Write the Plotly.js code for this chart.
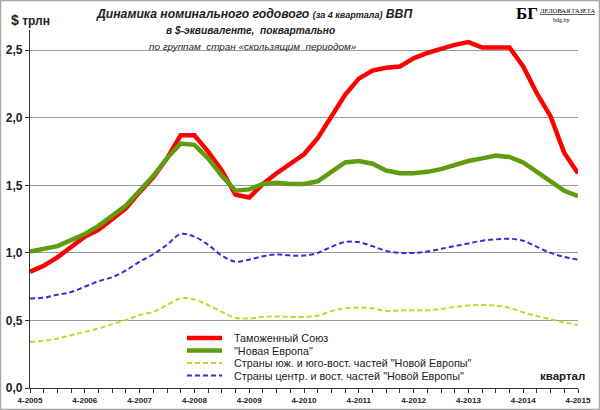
<!DOCTYPE html>
<html>
<head>
<meta charset="utf-8">
<script src="https://cdn.plot.ly/plotly-3.0.1.min.js"></script>
<style>
html,body{margin:0;padding:0;background:#fff;}
#chart{width:600px;height:410px;}
</style>
</head>
<body>
<div id="chart"></div>
<script>
const quarters = [
  "4-2005",
  "1-2006","2-2006","3-2006","4-2006",
  "1-2007","2-2007","3-2007","4-2007",
  "1-2008","2-2008","3-2008","4-2008",
  "1-2009","2-2009","3-2009","4-2009",
  "1-2010","2-2010","3-2010","4-2010",
  "1-2011","2-2011","3-2011","4-2011",
  "1-2012","2-2012","3-2012","4-2012",
  "1-2013","2-2013","3-2013","4-2013",
  "1-2014","2-2014","3-2014","4-2014",
  "1-2015","2-2015","3-2015","4-2015"
];
const customsUnion = [0.86,0.905,0.967,1.04,1.12,1.17,1.25,1.33,1.45,1.56,1.70,1.87,1.87,1.75,1.61,1.43,1.41,1.51,1.59,1.66,1.73,1.85,2.01,2.17,2.29,2.35,2.37,2.38,2.44,2.48,2.51,2.54,2.56,2.52,2.52,2.52,2.38,2.18,2.01,1.74,1.59];
const newEurope = [1.01,1.026,1.05,1.095,1.14,1.20,1.27,1.35,1.46,1.57,1.70,1.81,1.80,1.70,1.57,1.46,1.47,1.51,1.52,1.51,1.51,1.53,1.60,1.67,1.68,1.66,1.61,1.59,1.59,1.60,1.62,1.65,1.68,1.70,1.72,1.71,1.67,1.60,1.53,1.46,1.42];
const southEast = [0.343,0.35,0.367,0.39,0.416,0.44,0.473,0.503,0.54,0.564,0.614,0.663,0.656,0.614,0.564,0.52,0.515,0.527,0.53,0.527,0.527,0.535,0.57,0.59,0.594,0.59,0.57,0.575,0.575,0.575,0.585,0.60,0.61,0.614,0.61,0.594,0.56,0.533,0.508,0.486,0.466];
const centralEast = [0.663,0.668,0.69,0.71,0.75,0.79,0.82,0.87,0.935,0.99,1.06,1.14,1.12,1.06,0.98,0.935,0.95,0.975,0.99,0.98,0.98,1.00,1.045,1.08,1.08,1.05,1.015,1.00,1.00,1.01,1.03,1.05,1.07,1.09,1.10,1.105,1.09,1.045,1.00,0.97,0.95];
const yTicks = [0, 0.5, 1.0, 1.5, 2.0, 2.5];
const seriesNames = ["Таможенный Союз", "\"Новая Европа\"", "Страны юж. и юго-вост. частей \"Новой Европы\"", "Страны центр. и вост. частей \"Новой Европы\""];
const titleLines = [
  "<b><i>Динамика номинального годового <span style='font-size:9px'>(за 4 квартала)</span> ВВП</i></b>",
  "<b><i>в $-эквиваленте,  поквартально</i></b>",
  "<i>по группам  стран «скользящим  периодом»</i>"
];

// geometry helpers (pixel -> paper)
const L = 30, R = 578, T = 30, B = 388;
const px = x => (x - L) / (R - L);
const py = y => (B - y) / (B - T);

const FONT = "'Liberation Sans Narrow', 'Liberation Sans', Arial, sans-serif";
const colors = ["#ff0000", "#5f9c10", "#c3d62c", "#3030dd"];
const styles = [
  {width: 4.5, dash: "solid"},
  {width: 4.5, dash: "solid"},
  {width: 2, dash: "5px,3px"},
  {width: 2, dash: "5px,3px"}
];
const dataSeries = [customsUnion, newEurope, southEast, centralEast];
const order = [2, 3, 0, 1];

const traces = order.map(k => ({
  type: "scatter", mode: "lines", x: quarters, y: dataSeries[k], name: seriesNames[k],
  line: {color: colors[k], width: styles[k].width, dash: styles[k].dash, shape: k >= 2 ? "spline" : "linear", smoothing: 1},
  showlegend: false, hoverinfo: "skip"
}));

const shapes = [];
const annotations = [];
// manual legend
const legendRows = [338, 350.5, 363, 375.5];
seriesNames.forEach((nm, k) => {
  shapes.push({type: "line", xref: "paper", yref: "paper", x0: px(187), x1: px(222), y0: py(legendRows[k]), y1: py(legendRows[k]),
    line: {color: colors[k], width: styles[k].width, dash: styles[k].dash}});
  annotations.push({xref: "paper", yref: "paper", x: px(232), y: py(legendRows[k]), xanchor: "left", yanchor: "middle",
    text: nm, showarrow: false, font: {family: FONT, size: 10.8, color: "#1a1a1a"}});
});
// outer frame
shapes.push({type: "rect", xref: "paper", yref: "paper", x0: px(0.5), x1: px(599.5), y0: py(409.5), y1: py(0.5),
  line: {color: "#a8a8a8", width: 1.5}, fillcolor: "rgba(0,0,0,0)", layer: "above"});

// titles
const titlePos = [[254, 14, 12.2], [250, 30.5, 10.2], [253, 46.5, 9.9]];
titleLines.forEach((t, i) => {
  annotations.push({xref: "paper", yref: "paper", x: px(titlePos[i][0]), y: py(titlePos[i][1]), xanchor: "center", yanchor: "middle",
    text: t, showarrow: false, font: {family: FONT, size: titlePos[i][2], color: "#222"}});
});
annotations.push({xref: "paper", yref: "paper", x: px(9), y: py(20), xanchor: "left", yanchor: "middle",
  text: "<b><span style='font-size:14px'>$</span> трлн</b>", showarrow: false, font: {family: FONT, size: 12, color: "#222"}});
annotations.push({xref: "paper", yref: "paper", x: px(587), y: py(376), xanchor: "right", yanchor: "middle",
  text: "<b>квартал</b>", showarrow: false, font: {family: FONT, size: 11.5, color: "#222"}});
// logo
annotations.push({xref: "paper", yref: "paper", x: px(527), y: py(13), xanchor: "center", yanchor: "middle",
  text: "<b>БГ</b>", showarrow: false, font: {family: "'Liberation Serif', serif", size: 17, color: "#000"}});
annotations.push({xref: "paper", yref: "paper", x: px(567), y: py(10.5), xanchor: "center", yanchor: "middle",
  text: "<u>ДЕЛОВАЯ ГАЗЕТА</u>", showarrow: false, font: {family: "'Liberation Serif', serif", size: 6.5, color: "#000"}});
annotations.push({xref: "paper", yref: "paper", x: px(561), y: py(20.5), xanchor: "center", yanchor: "middle",
  text: "bdg.by", showarrow: false, font: {family: "'Liberation Serif', serif", size: 6, color: "#000"}});

const layout = {
  width: 600, height: 410,
  margin: {l: L, r: 600 - R, t: T, b: 410 - B, pad: 0},
  paper_bgcolor: "#fff", plot_bgcolor: "#fff",
  separators: ", ",
  showlegend: false,
  xaxis: {
    type: "category", range: [0, quarters.length - 1],
    tickmode: "array", tickvals: quarters, ticktext: quarters.map(q => q.startsWith("4-") ? "<b>" + q + "</b>" : ""),
    ticks: "outside", ticklen: 4, tickcolor: "#333", tickwidth: 1, tickangle: 0,
    showline: true, linecolor: "#333", linewidth: 1.2, showgrid: false, zeroline: false,
    tickfont: {family: FONT, size: 8, color: "#222"}
  },
  yaxis: {
    range: [0, 2.65], tickmode: "array", tickvals: yTicks, tickformat: ".1f",
    ticks: "outside", ticklen: 4, tickcolor: "#333",
    showline: true, linecolor: "#333", linewidth: 1.2,
    showgrid: true, gridcolor: "#9a9a9a", gridwidth: 1, zeroline: false,
    tickfont: {family: FONT, size: 12, color: "#222", weight: "bold"}
  },
  shapes: shapes,
  annotations: annotations
};

Plotly.newPlot("chart", traces, layout, {displayModeBar: false, staticPlot: true});
</script>
</body>
</html>
